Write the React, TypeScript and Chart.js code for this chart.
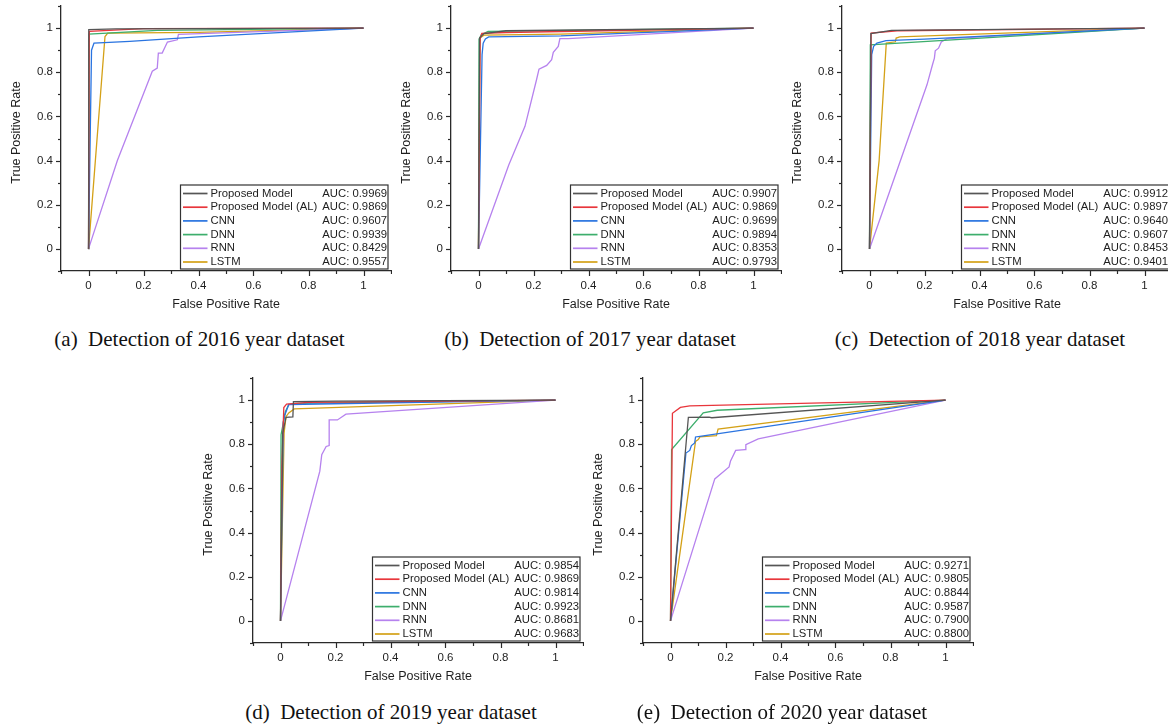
import React, { useEffect, useRef } from "react";
import { Chart, registerables } from "chart.js";

Chart.register(...registerables);
Chart.defaults.font.family = "'Liberation Sans', Arial, sans-serif";

type Pt = [number, number];

// ---------- shared labels / ticks ----------
const seriesNames = ["Proposed Model", "Proposed Model (AL)", "CNN", "DNN", "RNN", "LSTM"];
const seriesColors = ["#555555", "#e8363c", "#2a74e0", "#3dae6c", "#b682ee", "#d4a117"];
const majorTicks = [0, 0.2, 0.4, 0.6, 0.8, 1];
const minorTicks = [-0.1, 0, 0.1, 0.2, 0.3, 0.4, 0.5, 0.6, 0.7, 0.8, 0.9, 1, 1.1];
const xTitle = "False Positive Rate";
const yTitle = "True Positive Rate";

// ---------- (a) 2016 ----------
const roc2016Proposed: Pt[] = [[0, 0], [0.001, 0.993], [0.1, 0.996], [1, 1]];
const roc2016AL: Pt[] = [[0, 0], [0.003, 0.985], [0.2, 0.998], [1, 1]];
const roc2016CNN: Pt[] = [[0, 0], [0.011, 0.9], [0.02, 0.932], [0.15, 0.94], [0.4, 0.96], [1, 1]];
const roc2016DNN: Pt[] = [[0, 0], [0.002, 0.973], [0.25, 0.99], [1, 1]];
const roc2016RNN: Pt[] = [[0, 0], [0.105, 0.4], [0.232, 0.805], [0.25, 0.819], [0.254, 0.887], [0.268, 0.887], [0.287, 0.937], [0.323, 0.947], [0.327, 0.972], [1, 1]];
const roc2016LSTM: Pt[] = [[0, 0], [0.06, 0.962], [0.07, 0.977], [0.4, 0.981], [1, 1]];
const auc2016 = [0.9969, 0.9869, 0.9607, 0.9939, 0.8429, 0.9557];

// ---------- (b) 2017 ----------
const roc2017Proposed: Pt[] = [[0, 0], [0.004, 0.955], [0.02, 0.975], [0.1, 0.988], [1, 1]];
const roc2017AL: Pt[] = [[0, 0], [0.006, 0.95], [0.012, 0.976], [0.1, 0.98], [1, 1]];
const roc2017CNN: Pt[] = [[0, 0], [0.013, 0.88], [0.017, 0.932], [0.025, 0.951], [0.037, 0.96], [0.3, 0.965], [1, 1]];
const roc2017DNN: Pt[] = [[0, 0], [0.002, 0.95], [0.01, 0.97], [0.035, 0.985], [1, 1]];
const roc2017RNN: Pt[] = [[0, 0], [0.11, 0.38], [0.169, 0.555], [0.211, 0.766], [0.22, 0.814], [0.248, 0.831], [0.266, 0.857], [0.272, 0.89], [0.29, 0.917], [0.296, 0.952], [0.326, 0.952], [1, 1]];
const roc2017LSTM: Pt[] = [[0, 0], [0.005, 0.955], [0.02, 0.968], [0.3, 0.973], [1, 1]];
const auc2017 = [0.9907, 0.9869, 0.9699, 0.9894, 0.8353, 0.9793];

// ---------- (c) 2018 ----------
const roc2018Proposed: Pt[] = [[0, 0], [0.005, 0.975], [0.08, 0.99], [1, 1]];
const roc2018AL: Pt[] = [[0, 0], [0.006, 0.977], [0.1, 0.988], [1, 1]];
const roc2018CNN: Pt[] = [[0, 0], [0.008, 0.88], [0.015, 0.917], [0.027, 0.932], [0.06, 0.943], [0.2, 0.95], [1, 1]];
const roc2018DNN: Pt[] = [[0, 0], [0.003, 0.924], [1, 1]];
const roc2018RNN: Pt[] = [[0, 0], [0.209, 0.743], [0.229, 0.834], [0.236, 0.864], [0.239, 0.897], [0.251, 0.909], [0.261, 0.937], [0.282, 0.952], [1, 1]];
const roc2018LSTM: Pt[] = [[0, 0], [0.035, 0.4], [0.061, 0.932], [0.094, 0.938], [0.097, 0.955], [0.11, 0.96], [1, 1]];
const auc2018 = [0.9912, 0.9897, 0.964, 0.9607, 0.8453, 0.9401];

// ---------- (d) 2019 ----------
const roc2019Proposed: Pt[] = [[0, 0], [0.008, 0.85], [0.02, 0.922], [0.045, 0.924], [0.047, 0.993], [0.2, 0.995], [1, 1]];
const roc2019AL: Pt[] = [[0, 0], [0.005, 0.7], [0.012, 0.966], [0.022, 0.982], [0.1, 0.99], [1, 1]];
const roc2019CNN: Pt[] = [[0, 0], [0.01, 0.9], [0.015, 0.93], [0.03, 0.98], [1, 1]];
const roc2019DNN: Pt[] = [[0, 0], [0.002, 0.843], [0.01, 0.896], [0.018, 0.948], [0.03, 0.979], [0.048, 0.985], [1, 1]];
const roc2019RNN: Pt[] = [[0, 0], [0.143, 0.678], [0.15, 0.753], [0.166, 0.79], [0.177, 0.794], [0.177, 0.91], [0.207, 0.91], [0.238, 0.936], [1, 1]];
const roc2019LSTM: Pt[] = [[0, 0], [0.013, 0.85], [0.02, 0.925], [0.03, 0.942], [0.05, 0.96], [1, 1]];
const auc2019 = [0.9854, 0.9869, 0.9814, 0.9923, 0.8681, 0.9683];

// ---------- (e) 2020 ----------
const roc2020Proposed: Pt[] = [[0, 0], [0.065, 0.922], [0.14, 0.923], [0.15, 0.92], [1, 1]];
const roc2020AL: Pt[] = [[0, 0], [0.007, 0.94], [0.036, 0.967], [0.07, 0.974], [1, 1]];
const roc2020CNN: Pt[] = [[0, 0], [0.056, 0.76], [0.07, 0.772], [0.076, 0.794], [0.088, 0.806], [0.091, 0.833], [0.107, 0.836], [1, 1]];
const roc2020DNN: Pt[] = [[0, 0], [0.004, 0.776], [0.119, 0.942], [0.17, 0.954], [1, 1]];
const roc2020RNN: Pt[] = [[0, 0], [0.161, 0.643], [0.213, 0.697], [0.218, 0.723], [0.237, 0.772], [0.271, 0.776], [0.274, 0.798], [0.319, 0.824], [1, 1]];
const roc2020LSTM: Pt[] = [[0, 0], [0.091, 0.813], [0.101, 0.821], [0.107, 0.833], [0.167, 0.839], [0.173, 0.869], [1, 1]];
const auc2020 = [0.9271, 0.9805, 0.8844, 0.9587, 0.79, 0.88];

const captions = [
  "(a)\u00a0\u00a0Detection of 2016 year dataset",
  "(b)\u00a0\u00a0Detection of 2017 year dataset",
  "(c)\u00a0\u00a0Detection of 2018 year dataset",
  "(d)\u00a0\u00a0Detection of 2019 year dataset",
  "(e)\u00a0\u00a0Detection of 2020 year dataset",
];

// layout (plot-area left/top in page pixels, caption centre)
const panels = [
  { series: [roc2016Proposed, roc2016AL, roc2016CNN, roc2016DNN, roc2016RNN, roc2016LSTM], auc: auc2016, plotLeft: 61, plotTop: 6, capX: 199.5, capY: 339 },
  { series: [roc2017Proposed, roc2017AL, roc2017CNN, roc2017DNN, roc2017RNN, roc2017LSTM], auc: auc2017, plotLeft: 451, plotTop: 6, capX: 590, capY: 339 },
  { series: [roc2018Proposed, roc2018AL, roc2018CNN, roc2018DNN, roc2018RNN, roc2018LSTM], auc: auc2018, plotLeft: 842, plotTop: 6, capX: 980, capY: 339 },
  { series: [roc2019Proposed, roc2019AL, roc2019CNN, roc2019DNN, roc2019RNN, roc2019LSTM], auc: auc2019, plotLeft: 253, plotTop: 378, capX: 391, capY: 711.5 },
  { series: [roc2020Proposed, roc2020AL, roc2020CNN, roc2020DNN, roc2020RNN, roc2020LSTM], auc: auc2020, plotLeft: 643, plotTop: 378, capX: 782, capY: 711.5 },
];

const CANVAS_W = 392;
const CANVAS_H = 320;
const PAD_LEFT = 61;
const PAD_TOP = 6;
const X_AXIS_H = 49;
const AXIS_COLOR = "#2a2a2a";
const TEXT_COLOR = "#1e1e1e";

const fmt = (v: number) => String(Math.round(v * 10) / 10);

const zeroPadding = (s: any) => {
  s.paddingTop = 0;
  s.paddingBottom = 0;
  s.paddingLeft = 0;
  s.paddingRight = 0;
};

const decorPlugin = {
  id: "decor",
  afterDraw(chart: any) {
    const { ctx, chartArea: ca, scales } = chart;
    const xs = scales.x;
    const ys = scales.y;
    const auc: number[] = chart.options.plugins.decor.auc;
    ctx.save();
    // tick marks (outward), major and minor
    ctx.strokeStyle = AXIS_COLOR;
    ctx.lineWidth = 1.2;
    for (const v of minorTicks) {
      const isMajor = Math.round(v * 10) % 2 === 0;
      const len = isMajor ? 5 : 3;
      const px = Math.round(xs.getPixelForValue(v)) + 0.5;
      ctx.beginPath();
      ctx.moveTo(px, ca.bottom);
      ctx.lineTo(px, ca.bottom + len);
      ctx.stroke();
      const py = Math.round(ys.getPixelForValue(v)) + 0.5;
      ctx.beginPath();
      ctx.moveTo(ca.left - len, py);
      ctx.lineTo(ca.left, py);
      ctx.stroke();
    }
    // axis titles
    ctx.fillStyle = TEXT_COLOR;
    ctx.font = "12.5px 'Liberation Sans', Arial, sans-serif";
    ctx.textAlign = "center";
    ctx.textBaseline = "middle";
    ctx.fillText(xTitle, (ca.left + ca.right) / 2, ca.bottom + 33.5);
    ctx.save();
    ctx.translate(16.7, ca.top + 126.5);
    ctx.rotate(-Math.PI / 2);
    ctx.fillText(yTitle, 0, 0);
    ctx.restore();
    // legend box
    const bx = ca.left + 119.5;
    const by = ca.top + 179;
    const bw = ca.right - 3 - bx;
    const bh = ca.bottom - 2 - by;
    ctx.fillStyle = "#ffffff";
    ctx.fillRect(bx, by, bw, bh);
    ctx.strokeStyle = "#333333";
    ctx.lineWidth = 1.2;
    ctx.strokeRect(bx, by, bw, bh);
    ctx.font = "11.3px 'Liberation Sans', Arial, sans-serif";
    ctx.textBaseline = "middle";
    for (let i = 0; i < seriesNames.length; i++) {
      const cy = by + 8.5 + i * 13.7;
      ctx.strokeStyle = seriesColors[i];
      ctx.lineWidth = 1.7;
      ctx.beginPath();
      ctx.moveTo(bx + 2.5, cy);
      ctx.lineTo(bx + 27, cy);
      ctx.stroke();
      ctx.fillStyle = TEXT_COLOR;
      ctx.textAlign = "left";
      ctx.fillText(seriesNames[i], bx + 30, cy);
      ctx.textAlign = "right";
      ctx.fillText("AUC: " + auc[i].toFixed(4), bx + bw - 1, cy);
    }
    ctx.restore();
  },
};

function RocPanel({ idx }: { idx: number }) {
  const ref = useRef<HTMLCanvasElement>(null);
  const p = panels[idx];
  useEffect(() => {
    const chart = new Chart(ref.current as HTMLCanvasElement, {
      type: "scatter",
      data: {
        datasets: p.series.map((s, i) => ({
          label: seriesNames[i],
          data: s.map(([x, y]) => ({ x, y })),
          showLine: true,
          borderColor: seriesColors[i],
          backgroundColor: seriesColors[i],
          borderWidth: 1.3,
          pointRadius: 0,
          tension: 0,
        })),
      },
      options: {
        responsive: false,
        animation: false,
        events: [],
        layout: { padding: { left: 0, top: PAD_TOP, right: 1, bottom: 0 } },
        plugins: {
          legend: { display: false },
          tooltip: { enabled: false },
          decor: { auc: p.auc },
        } as any,
        scales: {
          x: {
            type: "linear",
            min: -0.1,
            max: 1.1,
            grid: { display: false, drawTicks: false },
            border: { display: true, color: AXIS_COLOR, width: 1.3 },
            ticks: { padding: 8, color: TEXT_COLOR, font: { size: 11.5 }, callback: (v: any) => fmt(Number(v)) },
            afterBuildTicks: (s: any) => { s.ticks = majorTicks.map((v) => ({ value: v })); },
            afterFit: (s: any) => { s.height = X_AXIS_H; zeroPadding(s); },
          },
          y: {
            type: "linear",
            min: -0.1,
            max: 1.1,
            grid: { display: false, drawTicks: false },
            border: { display: true, color: AXIS_COLOR, width: 1.3 },
            ticks: { padding: 8, color: TEXT_COLOR, font: { size: 11.5 }, callback: (v: any) => fmt(Number(v)) },
            afterBuildTicks: (s: any) => { s.ticks = majorTicks.map((v) => ({ value: v })); },
            afterFit: (s: any) => { s.width = PAD_LEFT; zeroPadding(s); },
          },
        },
      } as any,
      plugins: [decorPlugin],
    });
    return () => chart.destroy();
  }, []);
  return (
    <canvas
      ref={ref}
      width={CANVAS_W}
      height={CANVAS_H}
      style={{ position: "absolute", left: p.plotLeft - PAD_LEFT, top: p.plotTop - PAD_TOP, width: CANVAS_W, height: CANVAS_H }}
    />
  );
}

export default function App() {
  return (
    <div style={{ position: "absolute", left: 0, top: 0, width: 1168, height: 727, overflow: "hidden", background: "#ffffff" }}>
      {panels.map((_, i) => (
        <RocPanel key={i} idx={i} />
      ))}
      {panels.map((p, i) => (
        <div
          key={"c" + i}
          style={{
            position: "absolute",
            left: p.capX - 200,
            top: p.capY - 13,
            width: 400,
            height: 26,
            lineHeight: "26px",
            textAlign: "center",
            fontFamily: "'Liberation Serif', 'Times New Roman', serif",
            fontSize: 21,
            color: "#111",
            whiteSpace: "nowrap",
          }}
        >
          {captions[i]}
        </div>
      ))}
    </div>
  );
}
